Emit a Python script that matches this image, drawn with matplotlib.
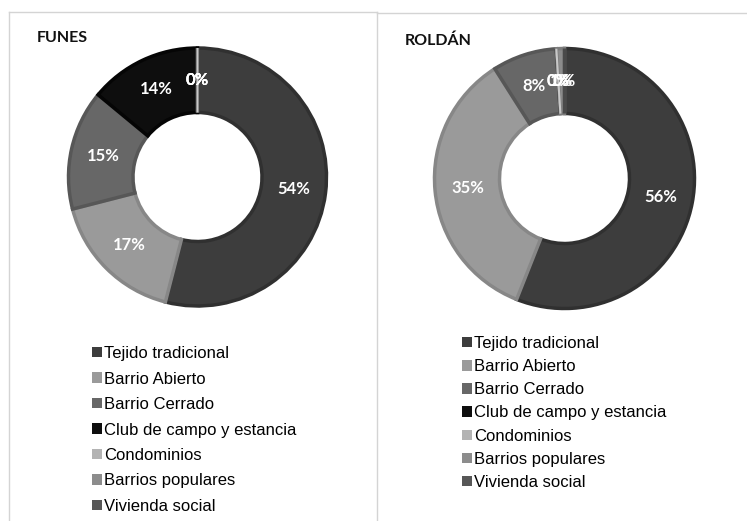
import matplotlib
matplotlib.use("Agg")
import matplotlib.pyplot as plt
from matplotlib.lines import Line2D

categories = ["Tejido tradicional", "Barrio Abierto", "Barrio Cerrado",
              "Club de campo y estancia", "Condominios", "Barrios populares",
              "Vivienda social"]
funes_values = [54, 17, 15, 14, 0, 0, 0]
roldan_values = [56, 35, 8, 0, 0, 1, 0]
titles = ["FUNES", "ROLDÁN"]

face_colors = ["#3d3d3d", "#9a9a9a", "#676767", "#0e0e0e", "#b3b3b3", "#8c8c8c", "#575757"]
edge_colors = ["#303030", "#878787", "#575757", "#050505", "#c8c8c8", "#7c7c7c", "#4a4a4a"]

W, H = 747, 521
fig = plt.figure(figsize=(W / 100, H / 100), dpi=100)
fig.patch.set_facecolor("white")

# panel borders
def fl(x0, y0, x1, y1):
    fig.add_artist(Line2D([x0 / W, x1 / W], [1 - y0 / H, 1 - y1 / H],
                          color="#d4d4d4", lw=1.0))
fl(9, 12, 377, 12)
fl(9, 12, 9, 521)
fl(377, 12, 377, 521)
fl(377, 12.7, 747, 12.7)

def donut(values, cx, cy, r, title, tx, ty, leg_x, leg_y, spacing):
    ax = fig.add_axes([(cx - r) / W, (H - cy - r) / H, 2 * r / W, 2 * r / H])
    wedges, texts, autotexts = ax.pie(
        values, colors=face_colors, startangle=90, counterclock=False,
        radius=1.0, autopct=lambda p: "%d%%" % round(p), pctdistance=0.75,
        wedgeprops=dict(width=0.5, linewidth=2.5),
        textprops=dict(color="white", fontsize=12, fontweight="bold",
                       family=["Lato", "DejaVu Sans"]))
    for w, ec in zip(wedges, edge_colors):
        w.set_edgecolor(ec)
    # light separator line of the empty "Condominios" wedge on top
    wedges[4].set_zorder(wedges[4].get_zorder() + 0.5)
    wedges[4].set_linewidth(1.5)
    ax.set_xlim(-1, 1)
    ax.set_ylim(-1, 1)
    ax.set_aspect("equal")
    ax.axis("off")
    fig.text(tx / W, 1 - ty / H, title, ha="left", va="center",
             fontsize=11.5, fontweight="bold", family=["Lato", "DejaVu Sans"],
             color="#111111")
    leg = fig.legend(wedges, categories, loc="upper left",
                     bbox_to_anchor=(leg_x / W, 1 - leg_y / H),
                     frameon=False, handlelength=0.6, handleheight=0.6,
                     handletextpad=0.15, labelspacing=spacing,
                     borderaxespad=0, borderpad=0,
                     prop=dict(family=["Liberation Sans", "DejaVu Sans"], size=12))
    for h in leg.legend_handles:
        h.set_linewidth(0)
    return ax

donut(funes_values, 197.5, 177, 129, titles[0], 37, 38, 92, 346, 0.63)
donut(roldan_values, 564.5, 178.5, 130, titles[1], 405, 41, 462, 336, 0.49)

fig.savefig("out.png", dpi=100, facecolor="white")
